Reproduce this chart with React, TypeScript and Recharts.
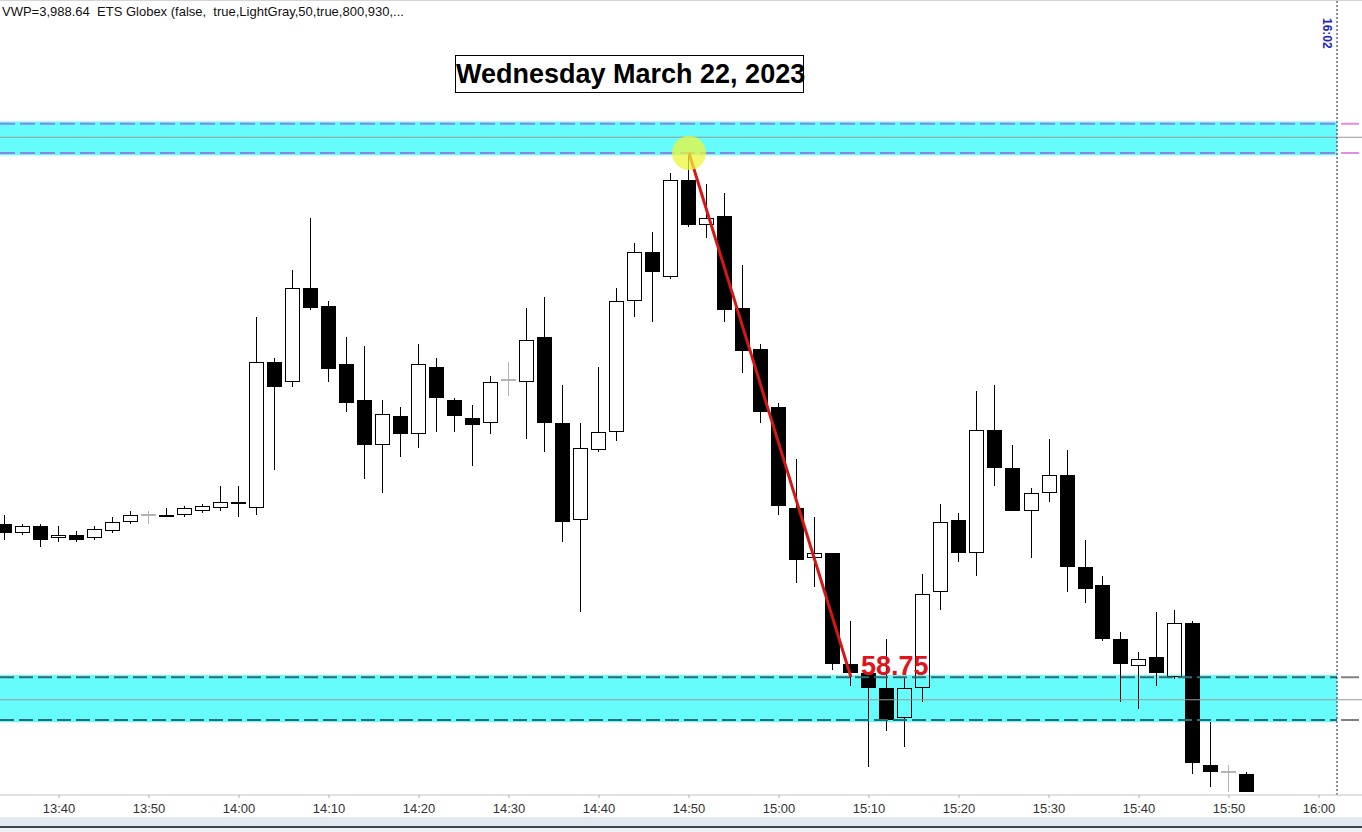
import React from 'react';
import {
  Bar,
  ComposedChart,
  ReferenceArea,
  ReferenceDot,
  ReferenceLine,
  XAxis,
  YAxis,
} from 'recharts';

// 2-minute ES bars, afternoon session
const barTimes = [
  '13:34', '13:36', '13:38', '13:40', '13:42', '13:44', '13:46', '13:48', '13:50', '13:52',
  '13:54', '13:56', '13:58', '14:00', '14:02', '14:04', '14:06', '14:08', '14:10', '14:12',
  '14:14', '14:16', '14:18', '14:20', '14:22', '14:24', '14:26', '14:28', '14:30', '14:32',
  '14:34', '14:36', '14:38', '14:40', '14:42', '14:44', '14:46', '14:48', '14:50', '14:52',
  '14:54', '14:56', '14:58', '15:00', '15:02', '15:04', '15:06', '15:08', '15:10', '15:12',
  '15:14', '15:16', '15:18', '15:20', '15:22', '15:24', '15:26', '15:28', '15:30', '15:32',
  '15:34', '15:36', '15:38', '15:40', '15:42', '15:44', '15:46', '15:48', '15:50', '15:52',
];

const opens = [
  4021.75, 4020.75, 4021.5, 4020.25, 4020.5, 4020.25, 4021.0, 4022.0, 4022.75, 4022.75,
  4022.75, 4023.25, 4023.5, 4024.25, 4023.5, 4039.75, 4037.5, 4048.0, 4046.0, 4039.5,
  4035.5, 4030.5, 4033.75, 4031.75, 4039.25, 4035.5, 4033.5, 4033.0, 4037.75, 4037.5,
  4042.5, 4033.0, 4022.25, 4030.0, 4032.0, 4046.5, 4052.0, 4049.25, 4060.0, 4055.0,
  4056.0, 4045.75, 4041.25, 4034.75, 4023.5, 4018.0, 4018.5, 4006.25, 4005.25, 4003.5,
  4000.25, 4003.5, 4014.25, 4022.25, 4018.5, 4032.25, 4028.0, 4023.25, 4025.25, 4027.25,
  4017.0, 4015.0, 4009.0, 4006.0, 4007.0, 4004.75, 4010.75, 3995.0, 3994.25, 3994.0,
];

const highs = [
  4022.75, 4021.75, 4021.75, 4021.5, 4021.0, 4021.5, 4022.5, 4023.25, 4023.25, 4023.5,
  4023.75, 4024.0, 4026.0, 4026.0, 4044.75, 4040.25, 4050.0, 4055.75, 4046.5, 4042.5,
  4041.5, 4035.5, 4034.75, 4041.75, 4040.25, 4035.75, 4035.0, 4038.25, 4039.75, 4045.75,
  4047.0, 4037.25, 4033.0, 4039.25, 4048.0, 4053.0, 4054.25, 4060.75, 4063.0, 4059.5,
  4058.5, 4050.5, 4041.75, 4035.25, 4029.0, 4022.5, 4018.5, 4011.0, 4005.25, 4009.0,
  4004.75, 4016.25, 4024.0, 4023.0, 4036.5, 4037.25, 4030.5, 4025.75, 4031.25, 4030.0,
  4020.0, 4016.0, 4009.75, 4007.5, 4012.0, 4012.25, 4011.0, 3999.75, 3995.0, 3994.25,
];

const lows = [
  4020.0, 4020.5, 4019.25, 4019.75, 4019.75, 4020.0, 4020.75, 4021.75, 4021.75, 4022.5,
  4022.5, 4023.0, 4023.25, 4022.5, 4022.75, 4027.75, 4037.0, 4045.5, 4037.5, 4034.25,
  4026.75, 4025.25, 4029.25, 4030.25, 4032.0, 4032.0, 4028.25, 4031.75, 4036.0, 4031.25,
  4029.75, 4019.75, 4012.0, 4029.75, 4031.0, 4044.75, 4044.25, 4049.0, 4054.75, 4053.5,
  4044.25, 4038.5, 4033.0, 4022.75, 4015.25, 4014.75, 4005.5, 4003.75, 3994.75, 3998.75,
  3997.0, 4002.0, 4012.25, 4017.5, 4016.0, 4026.0, 4023.25, 4018.0, 4024.25, 4014.25,
  4013.0, 4008.75, 4002.0, 4001.25, 4003.75, 4004.5, 3994.0, 3992.5, 3992.0, 3992.0,
];

const closes = [
  4020.75, 4021.5, 4020.0, 4020.5, 4020.0, 4021.25, 4022.0, 4022.75, 4022.75, 4022.5,
  4023.5, 4023.75, 4024.25, 4024.0, 4039.75, 4037.0, 4048.0, 4045.75, 4039.0, 4035.25,
  4030.5, 4034.0, 4031.75, 4039.5, 4035.75, 4033.75, 4032.75, 4037.5, 4037.75, 4042.25,
  4033.0, 4022.0, 4030.25, 4032.0, 4046.5, 4052.0, 4049.75, 4060.0, 4055.0, 4055.75,
  4045.5, 4041.0, 4034.25, 4023.75, 4017.75, 4018.5, 4006.25, 4005.25, 4003.5, 4000.0,
  4003.5, 4014.0, 4022.0, 4018.5, 4032.25, 4028.0, 4023.25, 4025.25, 4027.25, 4017.0,
  4014.5, 4009.0, 4006.25, 4006.75, 4005.25, 4010.75, 3995.25, 3994.25, 3994.25, 3992.0,
];

const axisTicks = [
  '13:40', '13:50', '14:00', '14:10', '14:20', '14:30', '14:40', '14:50',
  '15:00', '15:10', '15:20', '15:30', '15:40', '15:50', '16:00',
];

// zones: [fill top, fill bottom], dashed edges, middle line
const upperZone = [4066.5, 4062.75];
const upperEdges = [4066.25, 4063.0];
const upperMid = 4064.75;
const lowerZone = [4005.0, 3999.75];
const lowerEdges = [4004.75, 4000.0];
const lowerMid = 4002.25;

const moveFrom = { time: '14:50', price: 4063.0 };
const moveTo = { time: '15:08', price: 4004.75 };
const moveText = '58.75';
const sessionEnd = '16:02';

const headerText = 'VWP=3,988.64  ETS Globex (false,  true,LightGray,50,true,800,930,...';
const titleText = 'Wednesday March 22, 2023';

const CHART_W = 1362;
const CHART_H = 832;
const AXIS_H = 37;
const PX_PER_MIN = 9;
const PX_PER_PT = 9;
const TOP_PRICE = 4080;
const FONT = '"Liberation Sans", Arial, sans-serif';

const toMin = (s: string) => {
  const [h, m] = s.split(':').map(Number);
  return h * 60 + m;
};
const fmtTime = (v: number) => `${Math.floor(v / 60)}:${String(v % 60).padStart(2, '0')}`;

const firstBar = toMin(barTimes[0]);
const xDomain = [firstBar - 5 / PX_PER_MIN, firstBar + (CHART_W - 5) / PX_PER_MIN];
const yDomain = [TOP_PRICE - (CHART_H - AXIS_H) / PX_PER_PT, TOP_PRICE];
const endMin = toMin(sessionEnd);

const candles = barTimes.map((t, i) => ({
  t: toMin(t),
  open: opens[i],
  high: highs[i],
  low: lows[i],
  close: closes[i],
  range: [lows[i], highs[i]],
}));

function Candle(props: any) {
  const { x, y, width, height, payload } = props;
  const { open, close, high, low } = payload;
  const c = Math.round(x + width / 2);
  const cx = c + 0.5;
  const span = high - low;
  const py = (v: number) => Math.round(y + (span > 0 ? ((high - v) / span) * height : 0));
  const hi = py(high);
  const lo = py(low);
  const top = py(Math.max(open, close));
  const bot = py(Math.min(open, close));

  if (open === close) {
    return (
      <g>
        <line x1={cx} x2={cx} y1={hi} y2={lo} stroke="#b4b4b4" strokeWidth={1} />
        <rect x={c - 7} y={top - 1} width={15} height={2} fill="#b4b4b4" />
      </g>
    );
  }
  const up = close > open;
  return (
    <g>
      <line x1={cx} x2={cx} y1={hi} y2={top} stroke="#000" strokeWidth={1} />
      <line x1={cx} x2={cx} y1={bot} y2={lo} stroke="#000" strokeWidth={1} />
      {up ? (
        <rect
          x={c - 6.5}
          y={top + 0.5}
          width={14}
          height={Math.max(bot - top - 1, 1)}
          fill="none"
          stroke="#000"
          strokeWidth={1}
        />
      ) : (
        <rect x={c - 7} y={top} width={15} height={Math.max(bot - top, 1)} fill="#000" />
      )}
    </g>
  );
}

const stubX1 = endMin + 0.45;
const stubX2 = endMin + 2.45;

export default function App() {
  return (
    <div
      style={{
        position: 'absolute',
        left: 0,
        top: 0,
        width: CHART_W,
        height: CHART_H,
        background: '#fff',
        overflow: 'hidden',
        fontFamily: FONT,
      }}
    >
      <div style={{ position: 'absolute', left: 0, top: 0, width: CHART_W, height: 1, background: '#d4d4d4' }} />
      <ComposedChart
        width={CHART_W}
        height={CHART_H}
        data={candles}
        margin={{ top: 0, right: 0, bottom: 0, left: 0 }}
      >
        <XAxis
          dataKey="t"
          type="number"
          domain={xDomain}
          allowDataOverflow
          ticks={axisTicks.map(toMin)}
          interval={0}
          tickFormatter={fmtTime}
          height={AXIS_H}
          tickSize={3}
          tickMargin={6}
          tick={{ fontSize: 13, fill: '#333', fontFamily: FONT }}
          tickLine={{ stroke: '#aaa' }}
          axisLine={{ stroke: '#c4c4c4' }}
        />
        <YAxis hide type="number" domain={yDomain} allowDataOverflow />

        <ReferenceArea x1={xDomain[0]} x2={endMin} y1={upperZone[1]} y2={upperZone[0]} fill="#66fcfc" fillOpacity={1} stroke="none" />
        <ReferenceArea x1={xDomain[0]} x2={endMin} y1={lowerZone[1]} y2={lowerZone[0]} fill="#66fcfc" fillOpacity={1} stroke="none" />

        <ReferenceLine y={upperMid} stroke="#9a9a9a" strokeWidth={1} />
        <ReferenceLine y={lowerMid} stroke="#9a9a9a" strokeWidth={1} />
        {upperEdges.map(v => (
          <ReferenceLine key={`u${v}`} segment={[{ x: xDomain[0], y: v }, { x: endMin, y: v }]} stroke="#8a86e4" strokeWidth={2} strokeDasharray="15 5" />
        ))}
        {upperEdges.map(v => (
          <ReferenceLine key={`us${v}`} segment={[{ x: stubX1, y: v }, { x: stubX2, y: v }]} stroke="#e48ce2" strokeWidth={2} />
        ))}
        {lowerEdges.map(v => (
          <ReferenceLine key={`l${v}`} segment={[{ x: xDomain[0], y: v }, { x: endMin, y: v }]} stroke="#2e6c74" strokeWidth={2} strokeDasharray="14 5" />
        ))}
        {lowerEdges.map(v => (
          <ReferenceLine key={`ls${v}`} segment={[{ x: stubX1, y: v }, { x: stubX2, y: v }]} stroke="#808080" strokeWidth={2} />
        ))}

        <ReferenceLine
          x={endMin}
          stroke="#1c1c5c"
          strokeWidth={1}
          strokeDasharray="2 2"
          label={(p: any) => {
            const vx = p.viewBox.x - 14;
            const vy = 18;
            return (
              <text
                x={vx}
                y={vy}
                transform={`rotate(90 ${vx} ${vy})`}
                fontSize={12}
                fontWeight="bold"
                fontFamily={FONT}
                fill="#2424c8"
              >
                {sessionEnd}
              </text>
            );
          }}
        />

        <Bar dataKey="range" barSize={15} shape={Candle} isAnimationActive={false} />

        <ReferenceLine
          segment={[
            { x: toMin(moveFrom.time), y: moveFrom.price },
            { x: toMin(moveTo.time), y: moveTo.price },
          ]}
          stroke="#d41818"
          strokeWidth={3}
        />
        <ReferenceDot
          x={toMin(moveFrom.time)}
          y={moveFrom.price}
          r={17}
          fill="#eef53a"
          fillOpacity={0.75}
          stroke="none"
        />
        <ReferenceDot
          x={toMin(moveTo.time)}
          y={moveTo.price}
          r={0}
          fill="none"
          stroke="none"
          label={(p: any) => (
            <text
              x={p.viewBox.x + 10}
              y={p.viewBox.y - 2}
              fontSize={27}
              fontWeight="bold"
              fontFamily={FONT}
              fill="#e0141c"
            >
              {moveText}
            </text>
          )}
        />
      </ComposedChart>

      <div
        style={{
          position: 'absolute',
          left: 2,
          top: 4,
          fontSize: 13,
          color: '#111',
          whiteSpace: 'pre',
          lineHeight: '15px',
        }}
      >
        {headerText}
      </div>

      <div
        style={{
          position: 'absolute',
          left: 455,
          top: 55,
          width: 347,
          height: 36,
          border: '1px solid #000',
          background: '#fff',
          fontSize: 27,
          fontWeight: 'bold',
          lineHeight: '36px',
          textAlign: 'center',
          color: '#000',
          whiteSpace: 'nowrap',
        }}
      >
        {titleText}
      </div>

      <div style={{ position: 'absolute', left: 0, top: 817, width: CHART_W, height: 9, background: '#e4e9f0' }} />
      <div style={{ position: 'absolute', left: 0, top: 826, width: CHART_W, height: 2, background: '#3c4450' }} />
      <div style={{ position: 'absolute', left: 0, top: 828, width: CHART_W, height: 4, background: '#eef0f3' }} />
    </div>
  );
}
